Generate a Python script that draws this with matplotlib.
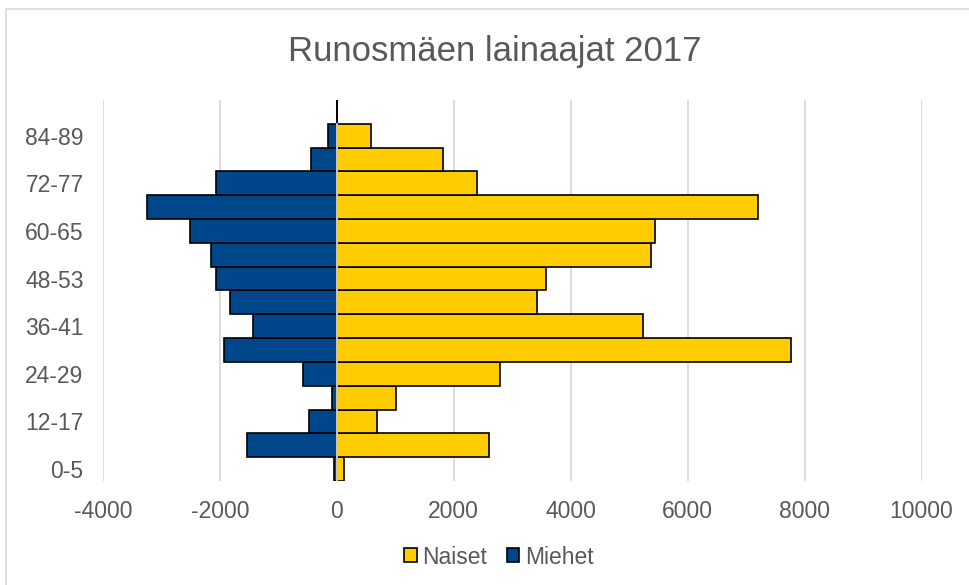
import matplotlib
matplotlib.use("Agg")
import matplotlib.pyplot as plt
from matplotlib.patches import Rectangle
import numpy as np

# age groups, bottom to top (last group is empty and unlabeled)
AGE_GROUPS = ["0-5", "6-11", "12-17", "18-23", "24-29", "30-35", "36-41",
              "42-47", "48-53", "54-59", "60-65", "66-71", "72-77", "78-83",
              "84-89", "90-95"]
NAISET = [125, 2600, 680, 1020, 2790, 7770, 5240, 3420, 3570, 5370,
          5450, 7200, 2390, 1820, 590, 0]
MIEHET = [-45, -1540, -470, -75, -575, -1930, -1430, -1830, -2060, -2150,
          -2520, -3240, -2060, -440, -150, 0]
X_TICKS = [-4000, -2000, 0, 2000, 4000, 6000, 8000, 10000]

YELLOW = "#FFCC00"
BLUE = "#00468B"
TEXT = "#595959"
GRID = "#D9D9D9"

plt.rcParams["font.family"] = ["Liberation Sans", "DejaVu Sans"]
plt.rcParams["axes.unicode_minus"] = False

fig = plt.figure(figsize=(9.69, 5.85), dpi=100)
ax = fig.add_axes([103 / 969, 1 - 481 / 585, (921.5 - 103) / 969, 381 / 585])

# chart area border (cropped at right and bottom)
fig.patches.append(Rectangle((6 / 969, -0.1), 1.2, 1 - 9 / 585 + 0.1,
                             transform=fig.transFigure, fill=False,
                             edgecolor=GRID, linewidth=1.2))

y = np.arange(len(AGE_GROUPS))
ax.barh(y, NAISET, height=1.0, color=YELLOW, edgecolor="black",
        linewidth=1.2, label="Naiset", zorder=2)
ax.barh(y, MIEHET, height=1.0, color=BLUE, edgecolor="black",
        linewidth=1.2, label="Miehet", zorder=2)
# vertical axis line through the bars
ax.plot([0, 0], [-0.5, len(AGE_GROUPS) - 1.5], color=GRID, linewidth=1.3,
        zorder=3)

ax.set_xlim(X_TICKS[0], X_TICKS[-1])
ax.set_ylim(-0.5, len(AGE_GROUPS) - 0.5)
ax.set_xticks(X_TICKS)
ax.set_xticklabels([str(t) for t in X_TICKS])
ax.set_yticks(y[::2])
ax.set_yticklabels(AGE_GROUPS[::2])
ax.tick_params(axis="both", length=0, labelsize=16.5, colors=TEXT)
ax.tick_params(axis="x", pad=14)
ax.tick_params(axis="y", pad=14)
ax.grid(axis="x", color=GRID, linewidth=1.3, zorder=0)
ax.set_axisbelow(True)
for s in ax.spines.values():
    s.set_visible(False)

fig.text(494.5 / 969, 1 - 51 / 585, "Runosmäen lainaajat 2017",
         ha="center", va="center", fontsize=25, color=TEXT)

leg = fig.legend(loc="center", bbox_to_anchor=(499 / 969, 1 - 557 / 585),
                 ncol=2, frameon=False, fontsize=16.5, handlelength=0.55,
                 handleheight=0.55, handletextpad=0.25, columnspacing=0.85,
                 borderpad=0)
for t in leg.get_texts():
    t.set_color(TEXT)

fig.savefig("out.png", dpi=100)
